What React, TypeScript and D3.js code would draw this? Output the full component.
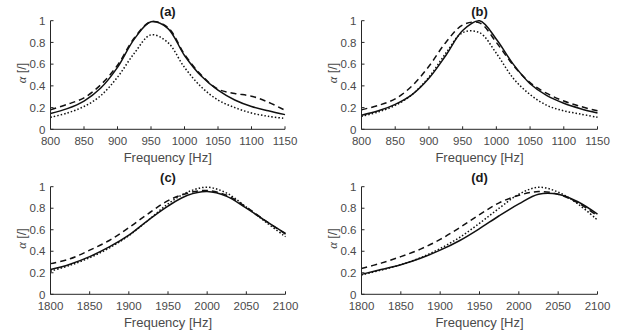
import React from 'react';
import * as d3 from 'd3';

// frequencies sampled for panels (a)/(b) and (c)/(d)
const freqAB = [800, 825, 850, 875, 900, 925, 950, 975, 1000, 1025, 1050, 1075, 1100, 1125, 1150];
const freqCD = [1800, 1825, 1850, 1875, 1900, 1925, 1950, 1975, 2000, 2025, 2050, 2075, 2100];

const solidA = [0.145, 0.19, 0.26, 0.38, 0.57, 0.83, 0.99, 0.93, 0.68, 0.49, 0.36, 0.27, 0.21, 0.17, 0.135];
const dashedA = [0.18, 0.23, 0.29, 0.41, 0.59, 0.84, 0.99, 0.94, 0.69, 0.5, 0.37, 0.33, 0.305, 0.25, 0.175];
const dottedA = [0.11, 0.15, 0.21, 0.31, 0.48, 0.7, 0.87, 0.8, 0.57, 0.39, 0.27, 0.2, 0.15, 0.12, 0.1];

const solidB = [0.13, 0.17, 0.23, 0.32, 0.47, 0.68, 0.91, 1.0, 0.83, 0.6, 0.42, 0.31, 0.24, 0.19, 0.15];
const dashedB = [0.18, 0.22, 0.28, 0.4, 0.58, 0.8, 0.96, 0.98, 0.8, 0.59, 0.43, 0.33, 0.26, 0.21, 0.17];
const dottedB = [0.12, 0.16, 0.22, 0.32, 0.48, 0.7, 0.89, 0.89, 0.7, 0.47, 0.32, 0.22, 0.17, 0.14, 0.11];

const solidC = [0.23, 0.28, 0.35, 0.44, 0.55, 0.69, 0.82, 0.92, 0.955, 0.91, 0.8, 0.68, 0.565];
const dashedC = [0.285, 0.33, 0.41, 0.5, 0.62, 0.75, 0.87, 0.94, 0.965, 0.92, 0.81, 0.68, 0.56];
const dottedC = [0.215, 0.27, 0.34, 0.43, 0.545, 0.69, 0.84, 0.95, 0.995, 0.94, 0.81, 0.67, 0.535];

const solidD = [0.185, 0.23, 0.275, 0.335, 0.41, 0.5, 0.61, 0.73, 0.84, 0.93, 0.93, 0.86, 0.745];
const dashedD = [0.24, 0.29, 0.35, 0.42, 0.51, 0.62, 0.74, 0.85, 0.92, 0.955, 0.93, 0.85, 0.73];
const dottedD = [0.18, 0.225, 0.275, 0.34, 0.425, 0.53, 0.66, 0.8, 0.93, 0.995, 0.95, 0.84, 0.69];

const xTicksAB = [800, 850, 900, 950, 1000, 1050, 1100, 1150];
const xTicksCD = [1800, 1850, 1900, 1950, 2000, 2050, 2100];
const yTicks = [0, 0.2, 0.4, 0.6, 0.8, 1];
const titles = ['(a)', '(b)', '(c)', '(d)'];

const textColor = '#4a4a4a';
const axisColor = '#262626';
const font = '"Liberation Sans", Arial, sans-serif';

const lineStyles = [
  { dash: null },
  { dash: '6 4' },
  { dash: '1.5 2' },
];

function Panel({ left, right, top, bottom, title, freq, series, xTicks }) {
  const x = d3.scaleLinear().domain([xTicks[0], xTicks[xTicks.length - 1]]).range([left, right]);
  const y = d3.scaleLinear().domain([0, 1]).range([bottom, top]);
  const line = d3.line<number>()
    .x((_, i) => x(freq[i]))
    .y(d => y(d))
    .curve(d3.curveCatmullRom.alpha(0.5));

  return (
    <g>
      {series.map((s, k) => (
        <path key={k} d={line(s) || ''} fill="none" stroke="#111"
          strokeWidth={1.5} strokeDasharray={lineStyles[k].dash || undefined} />
      ))}
      {/* axes */}
      <line x1={left} x2={right} y1={bottom} y2={bottom} stroke={axisColor} strokeWidth={1} />
      <line x1={left} x2={left} y1={top} y2={bottom} stroke={axisColor} strokeWidth={1} />
      {xTicks.map(t => (
        <g key={t}>
          <line x1={x(t)} x2={x(t)} y1={bottom} y2={bottom - 3} stroke={axisColor} />
          <text x={x(t)} y={bottom + 16} textAnchor="middle" fontSize={11.5} fill={textColor}
            fontFamily={font}>{t}</text>
        </g>
      ))}
      {yTicks.map(t => (
        <g key={t}>
          <line x1={left} x2={left + 3} y1={y(t)} y2={y(t)} stroke={axisColor} />
          <text x={left - 5} y={y(t) + 4.2} textAnchor="end" fontSize={11.5} fill={textColor}
            fontFamily={font}>{t}</text>
        </g>
      ))}
      <text x={(left + right) / 2} y={top - 5} textAnchor="middle" fontSize={13} fontWeight="bold"
        fill="#1a1a1a" fontFamily={font}>{title}</text>
      <text x={(left + right) / 2} y={bottom + 33} textAnchor="middle" fontSize={13} fill={textColor}
        fontFamily={font}>Frequency [Hz]</text>
      <text transform={`translate(${left - 25},${(top + bottom) / 2 - 2}) rotate(-90)`} textAnchor="middle"
        fontSize={12.5} fill={textColor} fontFamily={font}>
        <tspan fontFamily='"Liberation Serif", serif' fontStyle="italic">α</tspan> [/]
      </text>
    </g>
  );
}

export default function App() {
  const boxes = [
    { left: 50.5, right: 285, top: 20.7, bottom: 129.3 },
    { left: 361.5, right: 597.5, top: 20.7, bottom: 129.3 },
    { left: 50.5, right: 285.5, top: 186.7, bottom: 294.3 },
    { left: 361.5, right: 597.5, top: 186.7, bottom: 294.3 },
  ];
  const data = [
    { freq: freqAB, xTicks: xTicksAB, series: [solidA, dashedA, dottedA] },
    { freq: freqAB, xTicks: xTicksAB, series: [solidB, dashedB, dottedB] },
    { freq: freqCD, xTicks: xTicksCD, series: [solidC, dashedC, dottedC] },
    { freq: freqCD, xTicks: xTicksCD, series: [solidD, dashedD, dottedD] },
  ];
  return (
    <svg width={617} height={333} style={{ position: 'absolute', left: 0, top: 0, background: '#fff' }}>
      {boxes.map((b, i) => (
        <Panel key={i} {...b} title={titles[i]} {...data[i]} />
      ))}
    </svg>
  );
}
